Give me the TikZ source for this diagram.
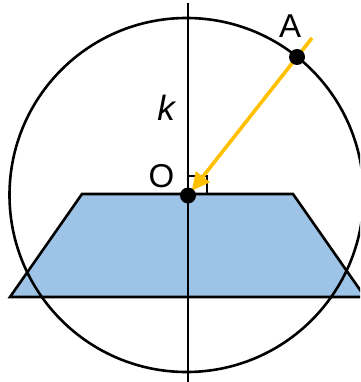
\documentclass[tikz,border=0pt]{standalone}
\usepackage{fontspec}
\setmainfont{Liberation Sans}
\usetikzlibrary{arrows.meta}
\definecolor{trapblue}{RGB}{157,195,230}
\definecolor{arrowyellow}{RGB}{255,192,0}
\begin{document}
\begin{tikzpicture}[x=1pt,y=-1pt,
  outline/.style={draw=black,line width=2.6pt},
  lbl/.style={font=\fontsize{33}{37}\selectfont,inner sep=0pt},
  dotmark/.style={circle,fill=black,inner sep=0pt,minimum size=16pt},
  ray/.style={draw=arrowyellow,line width=3.6pt,-{Triangle[length=18pt,width=17pt]}}]
\useasboundingbox (0,0) rectangle (360,382);
\clip (0,0) rectangle (360,382);
% trapezoid
\filldraw[fill=trapblue,outline] (82,194) -- (293,194) -- (365,297) -- (10,297) -- cycle;
% circle
\draw[outline] (186.5,195) circle[radius=177];
% axis k
\coordinate (ktop) at (188,3);
\coordinate (kbot) at (188,382);
\draw[outline] (ktop) -- (kbot);
% right angle mark
\draw[line width=2.2pt] (188,176) -- (207,176) -- (207,194);
% points
\coordinate (O) at (188,195.5);
\coordinate (A) at (297,57);
\coordinate (Aext) at (312,38);
\draw[ray,shorten >=6pt] (Aext) -- (O);
\node[dotmark] (Odot) at (O) {};
\node[dotmark] (Adot) at (A) {};
% labels
\node[lbl] (Olbl) at (161.5,176.5) {O};
\node[lbl] (Albl) at (290,26) {A};
\node[lbl,font=\fontsize{35}{39}\selectfont\itshape] (klbl) at (166,108) {k};
\end{tikzpicture}
\end{document}
